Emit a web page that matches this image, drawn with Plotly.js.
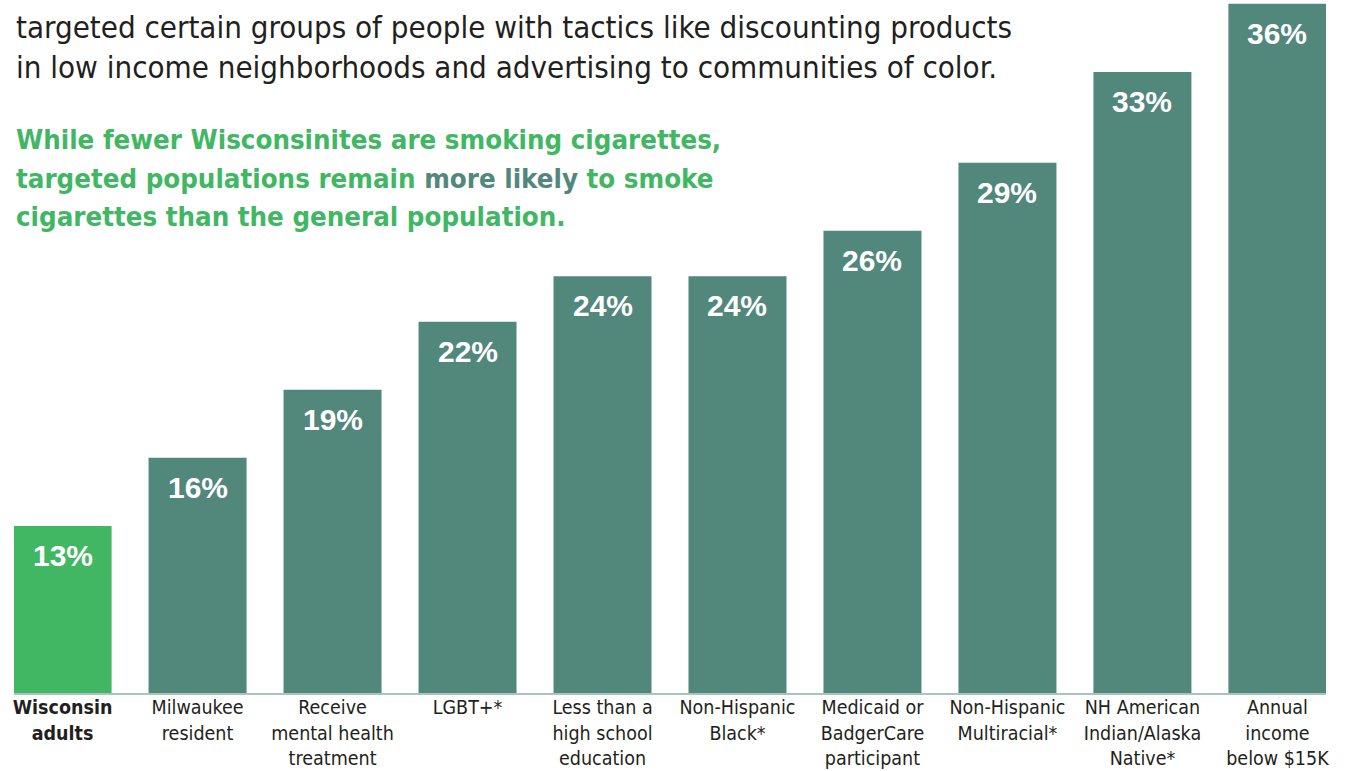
<!DOCTYPE html>
<html>
<head>
<meta charset="utf-8">
<script src="https://cdn.plot.ly/plotly-3.0.1.min.js"></script>
<style>
html,body{margin:0;padding:0;background:#fff;}
#chart{width:1346px;height:771px;}
</style>
</head>
<body>
<div id="chart"></div>
<script>
const categories = ["Wisconsin adults","Milwaukee resident","Receive mental health treatment","LGBT+*","Less than a high school education","Non-Hispanic Black*","Medicaid or BadgerCare participant","Non-Hispanic Multiracial*","NH American Indian/Alaska Native*","Annual income below $15K"];
const tickLabels = ["<b>Wisconsin<br>adults</b>","Milwaukee<br>resident","Receive<br>mental health<br>treatment","LGBT+*","Less than a<br>high school<br>education","Non-Hispanic<br>Black*","Medicaid or<br>BadgerCare<br>participant","Non-Hispanic<br>Multiracial*","NH American<br>Indian/Alaska<br>Native*","Annual<br>income<br>below $15K"];
const values = [13,16,19,22,24,24,26,29,33,36];
const introLines = ["targeted certain groups of people with tactics like discounting products","in low income neighborhoods and advertising to communities of color."];
const headlineLines = ["While fewer Wisconsinites are smoking cigarettes,","targeted populations remain <span style=\"color:#52877c\">more likely</span> to smoke","cigarettes than the general population."];

const GREEN = '#41b764', TEAL = '#52877c';
const COND = '"DejaVu Sans Condensed", "Liberation Sans Narrow", sans-serif';
const H = 693; // plot height px (top margin 0)

const colors = categories.map((c,i)=> i===0 ? GREEN : TEAL);

const annotations = [];
values.forEach((v,i)=>{
  annotations.push({x:categories[i], y:v, xref:'x', yref:'y', text:'<b>'+v+'%</b>', showarrow:false,
    yanchor:'top', yshift:-11, font:{family:'"Liberation Sans", Arial, sans-serif', size:30, color:'#ffffff'}});
});
const introY = [27,67];
introLines.forEach((t,i)=>{
  annotations.push({x:0, y:1-introY[i]/H, xref:'paper', yref:'paper', xanchor:'left', yanchor:'middle', showarrow:false,
    text:t, align:'left', font:{family:COND, size:31, color:'#231f20'}});
});
const headY = [140,178,216];
headlineLines.forEach((t,i)=>{
  annotations.push({x:0, y:1-headY[i]/H, xref:'paper', yref:'paper', xanchor:'left', yanchor:'middle', showarrow:false,
    text:'<b>'+t+'</b>', align:'left', font:{family:COND, size:27.4, color:GREEN}});
});

Plotly.newPlot('chart', [{
  type:'bar', x:categories, y:values, marker:{color:colors}, hoverinfo:'none'
}], {
  width:1346, height:771,
  margin:{l:14, r:20, t:0, b:78},
  paper_bgcolor:'#ffffff', plot_bgcolor:'#ffffff',
  bargap:0.274,
  showlegend:false,
  xaxis:{type:'category', range:[-0.36, 9.36], tickmode:'array', tickvals:categories, ticktext:tickLabels,
    ticks:'', showline:true, linecolor:'#a9c4bf', linewidth:2, showgrid:false, zeroline:false,
    ticklabelstandoff:-4,
    tickfont:{family:COND, size:19.5, color:'#231f20'}, tickangle:0, fixedrange:true},
  yaxis:{range:[5.64, 36.17], visible:false, showgrid:false, zeroline:false, fixedrange:true},
  annotations:annotations
}, {displayModeBar:false, staticPlot:true});
</script>
</body>
</html>
